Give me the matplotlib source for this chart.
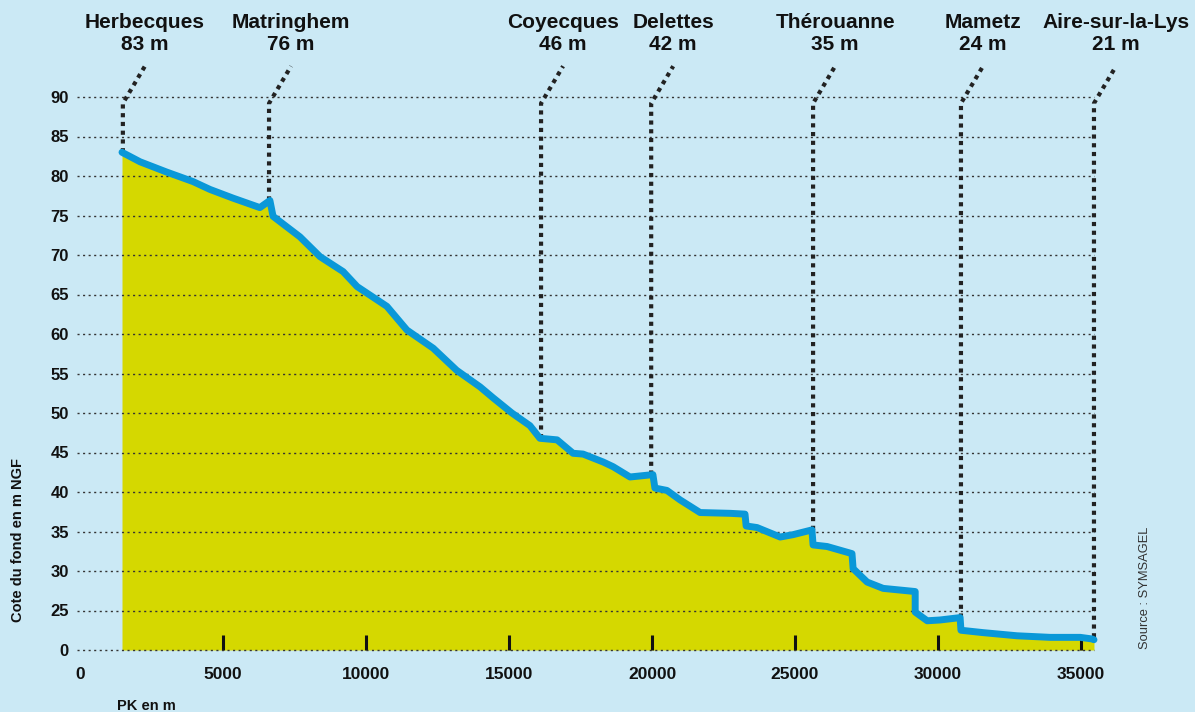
import numpy as np
import matplotlib
matplotlib.use("Agg")
import matplotlib.pyplot as plt
import matplotlib.transforms as mtransforms

plt.rcParams['font.family'] = ['Liberation Sans', 'DejaVu Sans']

# profile of the river bed (PK in m, elevation in m NGF)
pk = [1470, 2100, 3030, 3950, 4545, 5350, 6290, 6640, 6750, 7690, 8390, 9200,
      9690, 10730, 11430, 12350, 13170, 13990, 14450, 15100, 15730, 16080,
      16680, 17240, 17590, 18290, 18640, 19230, 20030, 20100, 20520, 20980,
      21680, 22730, 23250, 23290, 23670, 24480, 24930, 25590, 25630, 26120,
      26990, 27030, 27520, 28080, 29200, 29200, 29620, 30070, 30770, 30800,
      31570, 32760, 33920, 34970, 35380, 35450]
cote = [83.0, 81.8, 80.5, 79.3, 78.3, 77.2, 76.0, 76.9, 74.9, 72.3, 69.8, 67.9,
        66.0, 63.5, 60.5, 58.2, 55.4, 53.3, 51.9, 50.0, 48.4, 46.8,
        46.6, 44.9, 44.8, 43.8, 43.2, 41.9, 42.2, 40.5, 40.2, 39.0,
        37.4, 37.3, 37.2, 35.7, 35.5, 34.3, 34.6, 35.2, 33.3, 33.1,
        32.2, 30.3, 28.6, 27.8, 27.4, 24.8, 23.7, 23.8, 24.1, 22.5,
        22.2, 21.8, 21.6, 21.6, 21.4, 21.3]

# towns along the river
towns = ['Herbecques', 'Matringhem', 'Coyecques', 'Delettes', 'Thérouanne', 'Mametz', 'Aire-sur-la-Lys']
town_alt = ['83 m', '76 m', '46 m', '42 m', '35 m', '24 m', '21 m']
town_pk = [1500, 6610, 16120, 19970, 25630, 30800, 35450]
town_base = [83.0, 76.9, 46.8, 42.2, 35.2, 24.1, 21.6]

# axis ticks (the bottom of the axis is cut: "0" sits at 20 m)
y_ticks = [20, 25, 30, 35, 40, 45, 50, 55, 60, 65, 70, 75, 80, 85, 90]
y_labels = ['0', '25', '30', '35', '40', '45', '50', '55', '60', '65', '70', '75', '80', '85', '90']
x_ticks = [0, 5000, 10000, 15000, 20000, 25000, 30000, 35000]

bg = '#cbe9f5'
fig = plt.figure(figsize=(11.95, 7.12), dpi=100, facecolor=bg)
W, H = 1195, 712
ax = fig.add_axes([77.1 / W, 62 / H, (1124 - 77.1) / W, 592.5 / H])
ax.set_facecolor(bg)
ax.set_xlim(-100, 36500)
ax.set_ylim(20, 95)
for s in ax.spines.values():
    s.set_visible(False)

# fill + profile
ax.fill_between(pk, cote, 20, color='#d5d800', lw=0, zorder=1)
ax.hlines(y_ticks, -100, town_pk[-1], colors='#333333', lw=1.0,
          linestyles=(0, (1.5, 2.5)), zorder=2, clip_on=False)

# leader lines
for x, base in zip(town_pk, town_base):
    ax.plot([x, x, x + 770], [base, 89.2, 93.9], color='#222222', lw=3,
            linestyle=(0, (1, 1.1)), zorder=3, clip_on=False)

ax.plot(pk, cote, color='#0a98d8', lw=5, solid_joinstyle='round',
        solid_capstyle='round', zorder=4)

# town labels above
trans = mtransforms.blended_transform_factory(ax.transData, fig.transFigure)
for name, alt, x in zip(towns, town_alt, town_pk):
    ax.text(x + 770, 1 - 22 / H, name, transform=trans, ha='center', va='center',
            fontsize=15, fontweight='bold', color='#111111')
    ax.text(x + 770, 1 - 45 / H, alt, transform=trans, ha='center', va='center',
            fontsize=15, fontweight='bold', color='#111111')

ax.set_yticks(y_ticks)
ax.set_yticklabels(y_labels)
ax.tick_params(axis='y', length=0, pad=6, labelsize=12, colors='#111111')
ax.set_xticks(x_ticks)
ax.set_xticklabels([str(t) for t in x_ticks])
ax.tick_params(axis='x', direction='in', length=10.5, width=2.2, pad=12,
               labelsize=12.5, colors='#111111')
ax.xaxis.get_major_ticks()[0].tick1line.set_visible(False)
for lab in ax.get_xticklabels() + ax.get_yticklabels():
    lab.set_fontweight('bold')

fig.text(146 / W, 1 - 706 / H, 'PK en m', ha='center', va='center',
         fontsize=10.5, fontweight='bold', color='#111111')
fig.text(18 / W, 1 - 540 / H, 'Cote du fond en m NGF', ha='center', va='center',
         rotation=90, fontsize=10.5, fontweight='bold', color='#111111')
fig.text(1145 / W, 1 - 588 / H, 'Source : SYMSAGEL', ha='center', va='center',
         rotation=90, fontsize=9.3, color='#333333')

fig.savefig('out.png', dpi=100, facecolor=bg)
